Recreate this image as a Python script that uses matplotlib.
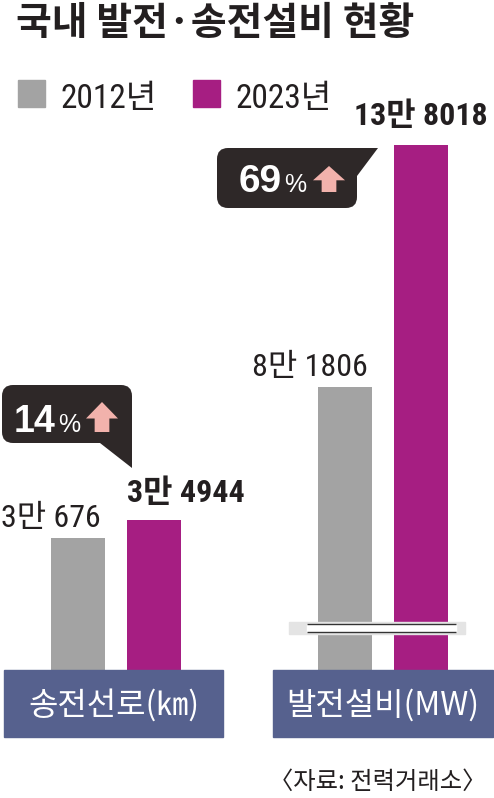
import matplotlib.pyplot as plt
from matplotlib.patches import Rectangle, FancyBboxPatch, Polygon

# data
groups = ['송전선로(㎞)', '발전설비(MW)']
years = ['2012년', '2023년']
v2012 = [30676, 81806]
v2023 = [34944, 138018]
lab2012 = ['3만 676', '8만 1806']
lab2023 = ['3만 4944', '13만 8018']
growth = ['14', '69']
cut = [0, 16000]   # second group is drawn on a broken axis

gray = '#a3a3a3'
purple = '#a61e82'
navy = '#56618e'
dark = '#2e2828'
pink = '#f2b2ac'
ink = '#231f20'

narrow = ['Roboto Condensed', 'Noto Sans CJK KR', 'DejaVu Sans']
latin = ['Liberation Sans', 'DejaVu Sans']
plt.rcParams['font.family'] = ['Noto Sans CJK KR', 'DejaVu Sans']

W, H = 494, 798
fig = plt.figure(figsize=(W / 100, H / 100), dpi=100)
base = 670  # pixel row of the bar baseline

# bars
ax = fig.add_axes([0, (H - base) / H, 1, base / H])
ax.set_xlim(-0.432, 1.415)
ax.set_ylim(0, base / 0.0043)
ax.axis('off')

x = [0, 1]
off, bw = 0.142, 0.202
h12 = [v - c for v, c in zip(v2012, cut)]
h23 = [v - c for v, c in zip(v2023, cut)]
ax.bar([i - off for i in x], h12, bw, color=gray, zorder=2)
ax.bar([i + off for i in x], h23, bw, color=purple, zorder=2)

for i in x:
    ax.annotate(lab2012[i], (i - off + bw / 2, h12[i]), xytext=(-4, 11),
                textcoords='offset pixels', ha='right', va='baseline',
                fontsize=23, family=narrow, color=ink)

ha23 = ['left', 'center']
dy23 = [18, 20]
for i in x:
    xa = i + off - bw / 2 if ha23[i] == 'left' else i + off
    ax.annotate(lab2023[i], (xa, h23[i]), xytext=(0, dy23[i]),
                textcoords='offset pixels', ha=ha23[i], va='baseline',
                fontsize=23, weight='bold', family=narrow, color=ink)

# axis break on the second group
brk = 9770
ax.add_patch(Rectangle((1 - 0.351, brk - 1400), 0.658, 2800, color='#e4e4e4', zorder=3))
ax.add_patch(Rectangle((1 - 0.284, brk - 930), 0.557, 1860, color='white', zorder=4))
ax.hlines([brk - 930, brk + 930], 1 - 0.284, 1 + 0.273, color='#333333', lw=1, zorder=5)

# overlay in pixel coordinates for the decorations
ov = fig.add_axes([0, 0, 1, 1])
ov.set_xlim(0, W)
ov.set_ylim(H, 0)
ov.axis('off')

ov.text(16, 23, '국내 발전·송전설비 현황', fontsize=28, weight='bold',
        color=ink, va='center')

for j, (c, lx) in enumerate(zip([gray, purple], [18, 193])):
    ov.add_patch(Rectangle((lx, 80), 27, 27, color=c))
    ov.text(lx + 42, 108, years[j], fontsize=24, family=narrow,
            va='baseline', color=ink)

for i, (bx, bwid) in enumerate([(4, 219), (273, 220)]):
    ov.add_patch(Rectangle((bx, base), bwid, 67, color=navy))
    ov.text(bx + bwid / 2, base + 35, groups[i], color='white', fontsize=23,
            ha='center', va='center')


def up_arrow(x0, x1, y0, y1):
    mid = (x0 + x1) / 2
    hy = y0 + 0.55 * (y1 - y0)
    sw = 0.23 * (x1 - x0)
    pts = [(x0, hy), (mid, y0), (x1, hy), (mid + sw, hy), (mid + sw, y1),
           (mid - sw, y1), (mid - sw, hy)]
    ov.add_patch(Polygon(pts, closed=True, color=pink, lw=0))


def callout(box, tail, txt, tx, px, ty, size, arrow):
    x0, y0, x1, y1 = box
    ov.add_patch(FancyBboxPatch((x0, y0), x1 - x0, y1 - y0,
                                boxstyle='round,pad=0,rounding_size=11',
                                color=dark, lw=0))
    ov.add_patch(Polygon(tail, closed=True, color=dark, lw=0))
    ov.text(tx, ty, txt, fontsize=size, weight='bold', family=latin,
            color='white', va='baseline')
    ov.text(px, ty, '%', fontsize=18, family=latin,
            color='white', va='baseline')
    up_arrow(*arrow)


callout((2, 385, 132, 443), [(100, 443), (132, 431), (132, 468)],
        growth[0], 14, 58, 432, 27, (86, 118, 402, 432))
callout((217, 148, 357, 208), [(343, 148), (378, 148), (357, 176)],
        growth[1], 239, 284, 192, 28, (313, 345, 166, 192))

ov.text(378, 782, '〈자료: 전력거래소〉', fontsize=17.5, ha='center',
        va='center', color=ink)

fig.savefig('out.png', dpi=100)
